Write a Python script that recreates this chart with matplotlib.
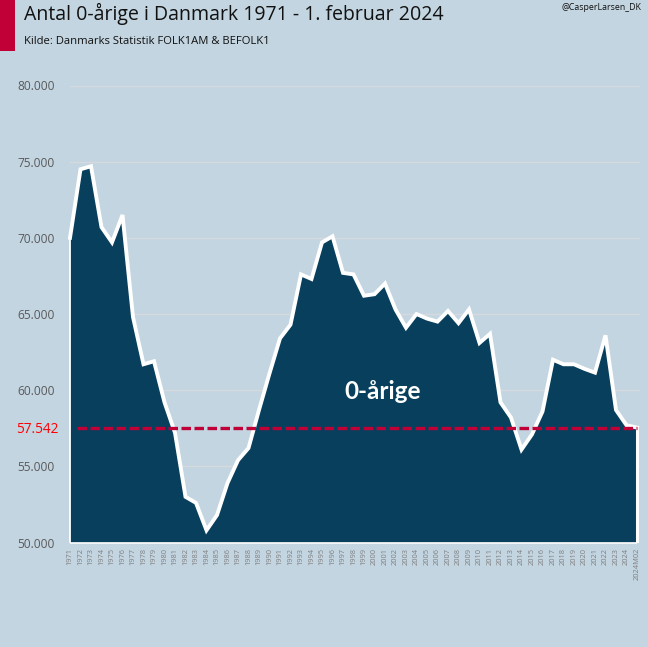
import matplotlib
matplotlib.use('Agg')
import matplotlib.pyplot as plt
from matplotlib.patches import Rectangle

# antal 0-aarige, aflaest fra figuren
years = [str(y) for y in range(1971, 2025)] + ['2024M02']
values = [70000, 74500, 74700, 70700, 69700, 71500, 64800, 61700, 61900, 59200,
          57200, 53000, 52600, 50800, 51800, 53900, 55400, 56200, 58700, 61100,
          63400, 64300, 67600, 67300, 69700, 70100, 67700, 67600, 66200, 66300,
          67000, 65300, 64100, 65000, 64700, 64500, 65200, 64400, 65300, 63100,
          63700, 59200, 58200, 56100, 57100, 58600, 62000, 61700, 61700, 61400,
          61150, 63600, 58700, 57700, 57542]
level = 57542
yticks = [50000, 55000, 60000, 65000, 70000, 75000, 80000]
ytick_labels = ['50.000', '55.000', '60.000', '65.000', '70.000', '75.000', '80.000']

W, H = 648, 647
BG = '#C3D5E1'
DARK = '#073F5C'
RED = '#C00036'

plt.rcParams['font.family'] = ['Open Sans', 'DejaVu Sans']

fig = plt.figure(figsize=(W / 100, H / 100), dpi=100, facecolor=BG)
ax = fig.add_axes([70 / W, 1 - 542.5 / H, (640 - 70) / W, (542.5 - 85.5) / H], facecolor=BG)

xs = list(range(len(years)))
ax.set_xlim(0, (640 - 70) / 10.5)
ax.set_ylim(50000, 80000)
ax.set_axisbelow(True)
ax.yaxis.grid(True, color='#D6D9DE', lw=1.0)
ax.xaxis.grid(False)
for s in ax.spines.values():
    s.set_visible(False)

ax.fill_between(xs, values, 50000, facecolor=DARK, edgecolor='none', zorder=2)
ax.plot(xs, values, color='white', lw=2.8, solid_joinstyle='miter', zorder=3, clip_on=False)
ax.vlines(xs[0], 50000, values[0], color='white', lw=1.3, zorder=3, clip_on=False)
ax.hlines(50000, xs[0], xs[-1], color='white', lw=1.1, zorder=3, clip_on=False)
ax.vlines(xs[-1], 50000, values[-1], color='white', lw=2.2, zorder=3)
ax.plot([0.7, xs[-1]], [level, level], color=RED, lw=2.4, dashes=(2.85, 1.05), zorder=4)

ax.set_xticks(xs)
ax.set_xticklabels(years, rotation=90, fontsize=5.4, color='#7F7F7F')
ax.set_yticks(yticks)
ax.set_yticklabels(ytick_labels, fontsize=8.6, color='#595959')
ax.tick_params(axis='x', length=0, pad=4)
ax.tick_params(axis='y', length=0, pad=11)

ax.text(-1.07, level, '57.542', color='#FF0000', fontsize=9.8, ha='right', va='center_baseline')
ax.text(29.8, 59900, '0-årige', color='white', fontsize=17.5, fontweight='bold', family=['Lato', 'DejaVu Sans'],
        ha='center', va='center', zorder=5)

fig.add_artist(Rectangle((0, 1 - 51 / H), 15 / W, 51 / H, transform=fig.transFigure, facecolor=RED, edgecolor='none'))
fig.text(24 / W, 1 - 14 / H, 'Antal 0-årige i Danmark 1971 - 1. februar 2024', fontsize=14.05, color='#111111', va='center')
fig.text(24 / W, 1 - 41 / H, 'Kilde: Danmarks Statistik FOLK1AM & BEFOLK1', fontsize=8.1, color='#111111', va='center')
fig.text(641 / W, 1 - 7 / H, '@CasperLarsen_DK', fontsize=6.3, color='#111111', va='center', ha='right')

fig.savefig('out.png', dpi=100, facecolor=BG)
